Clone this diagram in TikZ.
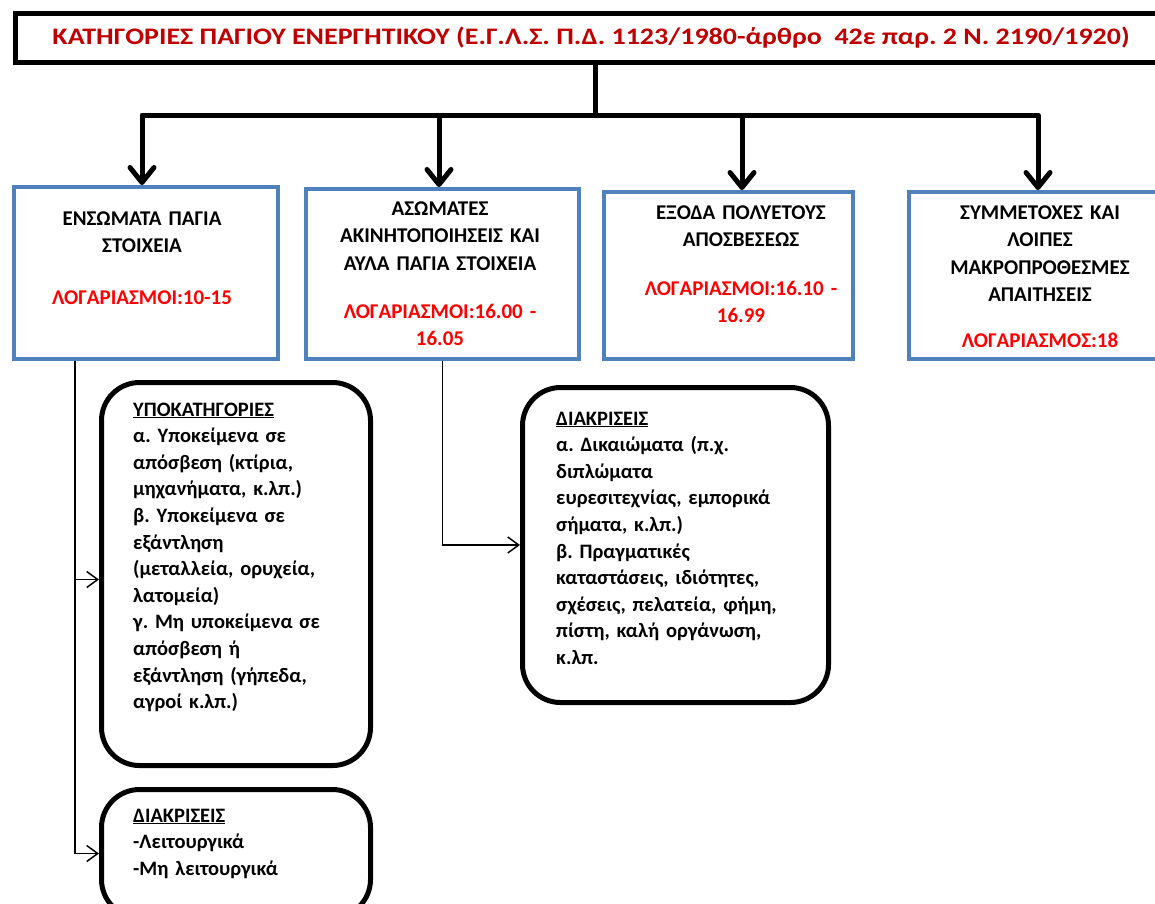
\documentclass[tikz,border=0pt]{standalone}
\usepackage{fontspec}
\setmainfont{Carlito}
\usetikzlibrary{arrows.meta}
\definecolor{boxblue}{HTML}{4F81BD}
\definecolor{titlered}{HTML}{C00000}
\definecolor{accred}{HTML}{FF0000}
\frenchspacing
\begin{document}
\begin{tikzpicture}[x=1pt,y=-1pt,
  catbox/.style={draw=boxblue, line width=4pt, inner sep=0pt, anchor=north west},
  subbox/.style={draw=black, line width=5pt, rounded corners=38pt, inner sep=0pt, anchor=north west},
  titlebox/.style={draw=black, line width=5pt, inner sep=0pt, anchor=north west},
  cattext/.style={anchor=base, align=center, text width=270pt, inner sep=0pt, font=\bfseries\fontsize{21}{27.5}\selectfont},
  acctext/.style={cattext, text=accred},
  subtext/.style={anchor=base west, align=left, text width=300pt, inner sep=0pt, font=\bfseries\fontsize{20.5}{26.6}\selectfont},
  heavyline/.style={line width=5pt, line cap=round, line join=round},
  heavyarrow/.style={heavyline, -{Straight Barb[length=15pt,width=24pt,line cap=round,line join=round]}},
  thinarrow/.style={line width=1.5pt, -{Straight Barb[length=11pt,width=16pt]}},
]
\useasboundingbox (0,0) rectangle (1155,903);

% title
\node[titlebox, minimum width=1170pt, minimum height=49pt] (title) at (13,11) {};
\node[anchor=base, inner sep=0pt, text=titlered, font=\bfseries\fontsize{23.5}{26}\selectfont] (titletext) at (591,44)
  {\resizebox{1077pt}{!}{\scalebox{1.18}[1]{ΚΑΤΗΓΟΡΙΕΣ ΠΑΓΙΟΥ ΕΝΕΡΓΗΤΙΚΟΥ (Ε.Γ.Λ.Σ. Π.Δ. 1123/1980-άρθρο\ \ 42ε παρ. 2 Ν. 2190/1920)}}};

% category boxes
\node[catbox, minimum width=264pt, minimum height=172pt] (box1) at (12,185) {};
\node[catbox, minimum width=273pt, minimum height=170pt] (box2) at (304,187) {};
\node[catbox, minimum width=249pt, minimum height=167pt] (box3) at (602,190) {};
\node[catbox, minimum width=260pt, minimum height=167pt] (box4) at (907,190) {};

\node[cattext] (t1) at (142,225) {ΕΝΣΩΜΑΤΑ ΠΑΓΙΑ\\ΣΤΟΙΧΕΙΑ};
\node[acctext] (r1) at (142,304) {ΛΟΓΑΡΙΑΣΜΟΙ:10-15};
\node[cattext] (t2) at (440,215) {ΑΣΩΜΑΤΕΣ\\ΑΚΙΝΗΤΟΠΟΙΗΣΕΙΣ ΚΑΙ\\ΑΥΛΑ ΠΑΓΙΑ ΣΤΟΙΧΕΙΑ};
\node[acctext] (r2) at (440,318) {ΛΟΓΑΡΙΑΣΜΟΙ:16.00 -\\16.05};
\node[cattext] (t3) at (741,219) {ΕΞΟΔΑ ΠΟΛΥΕΤΟΥΣ\\ΑΠΟΣΒΕΣΕΩΣ};
\node[acctext] (r3) at (741,295) {ΛΟΓΑΡΙΑΣΜΟΙ:16.10 -\\16.99};
\node[cattext] (t4) at (1040,219) {ΣΥΜΜΕΤΟΧΕΣ ΚΑΙ\\ΛΟΙΠΕΣ\\ΜΑΚΡΟΠΡΟΘΕΣΜΕΣ\\ΑΠΑΙΤΗΣΕΙΣ};
\node[acctext] (r4) at (1040,347) {ΛΟΓΑΡΙΑΣΜΟΣ:18};

% sub boxes
\node[subbox, minimum width=269pt, minimum height=383pt] (boxA) at (99,380) {};
\node[subbox, minimum width=306pt, minimum height=315pt] (boxB) at (520,385) {};
\node[subbox, minimum width=269pt, minimum height=128pt] (boxC) at (99,787) {};

\node[subtext] (tA) at (133,416) {\underline{ΥΠΟΚΑΤΗΓΟΡΙΕΣ}\\
α. Υποκείμενα σε\\
απόσβεση (κτίρια,\\
μηχανήματα, κ.λπ.)\\
β. Υποκείμενα σε\\
εξάντληση\\
(μεταλλεία, ορυχεία,\\
λατομεία)\\
γ. Μη υποκείμενα σε\\
απόσβεση ή\\
εξάντληση (γήπεδα,\\
αγροί κ.λπ.)};
\node[subtext] (tB) at (556,425) {\underline{ΔΙΑΚΡΙΣΕΙΣ}\\
α. Δικαιώματα (π.χ.\\
διπλώματα\\
ευρεσιτεχνίας, εμπορικά\\
σήματα, κ.λπ.)\\
β. Πραγματικές\\
καταστάσεις, ιδιότητες,\\
σχέσεις, πελατεία, φήμη,\\
πίστη, καλή οργάνωση,\\
κ.λπ.};
\node[subtext] (tC) at (133,822) {\underline{ΔΙΑΚΡΙΣΕΙΣ}\\
-Λειτουργικά\\
-Μη λειτουργικά};

% heavy connectors
\coordinate (hub) at (595,115);
\draw[heavyline] (title.south -| hub) -- (hub);
\draw[heavyarrow] (hub) -| ([xshift=-4pt]box1.north);
\draw[heavyarrow] (hub) -| ([xshift=-3.5pt]box2.north);
\draw[heavyarrow] (hub) -| ([xshift=13.5pt]box3.north);
\draw[heavyarrow] (hub) -| ([xshift=-1pt]box4.north);

% thin connectors
\draw[thinarrow] ([xshift=-71pt]box1.south) |- (boxC.west);
\draw[thinarrow] ([xshift=-71pt]box1.south) |- ([yshift=-5.5pt]boxA.west);
\draw[thinarrow] (box2.south) |- (boxB.west);
\end{tikzpicture}
\end{document}
